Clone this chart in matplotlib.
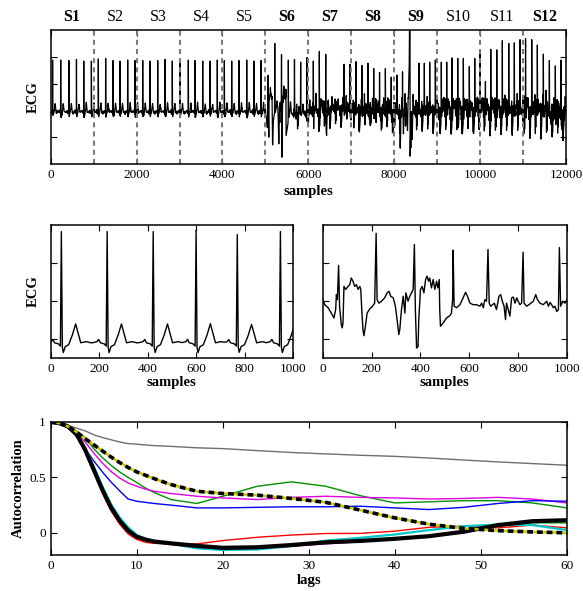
import numpy as np
import matplotlib
matplotlib.use("Agg")
import matplotlib.pyplot as plt

plt.rcParams['font.family'] = ['Liberation Serif', 'DejaVu Serif']

# ---------------- data ----------------
seg_labels = ['S1', 'S2', 'S3', 'S4', 'S5', 'S6', 'S7', 'S8', 'S9', 'S10', 'S11', 'S12']
seg_bold = [True, False, False, False, False, True, True, True, True, False, False, True]
seg_bounds = [1000, 2000, 3000, 4000, 5000, 6000, 7000, 8000, 9000, 10000, 11000]

# one heart beat (offset from R peak in samples, amplitude relative to R height)
tmpl_off = [-60, -42, -35, -28, -12, -4, 0, 4, 8, 16, 30, 44, 59, 71, 80, 95, 104, 120]
tmpl_val = [0.0, 0.01, 0.03, 0.0, -0.01, -0.03, 1.0, -0.04, -0.088, -0.035, -0.017,
            0.06, 0.169, 0.07, 0.0, 0.007, 0.01, 0.0]

# middle-left panel: segment S1 (clean)
left_r_pos = [44, 233, 423, 600, 770, 948]
left_r_amp = [1.41, 1.41, 1.41, 1.43, 1.37, 1.41]
left_base = -0.05

# middle-right panel: segment S6 (noisy)
right_x = [0, 7, 21, 34, 45, 52, 55, 59, 64, 68, 75, 79, 82, 86, 93, 103, 110, 116, 123, 130,
           137, 144, 151, 155, 159, 164, 168, 174, 181, 192, 203, 212, 218, 222, 229, 240, 253,
           263, 271, 278, 288, 297, 304, 311, 315, 322, 329, 336, 340, 349, 356, 363, 370, 375,
           379, 384, 390, 393, 400, 407, 414, 421, 427, 433, 438, 445, 452, 459, 466, 471, 477,
           479, 482, 493, 507, 521, 527, 532, 534, 538, 548, 562, 575, 585, 593, 603, 616, 630,
           644, 651, 658, 664, 671, 677, 682, 688, 696, 703, 712, 722, 729, 736, 743, 749, 753,
           760, 767, 774, 781, 788, 795, 801, 808, 815, 821, 825, 836, 849, 863, 873, 880, 890,
           904, 918, 925, 932, 938, 945, 952, 959, 966, 970, 975, 984, 993, 1000]
right_y = [0.517, 0.45, 0.41, 0.34, 0.276, 0.386, 0.583, 0.517, 0.965, 0.43, 0.19, 0.145, 0.21,
           0.69, 0.65, 0.69, 0.714, 0.80, 0.758, 0.69, 0.714, 0.65, 0.69, 0.65, 0.386, 0.12,
           0.043, 0.166, 0.34, 0.395, 0.43, 0.47, 1.386, 0.517, 0.47, 0.495, 0.54, 0.605, 0.626,
           0.56, 0.54, 0.43, 0.254, 0.057, 0.12, 0.386, 0.56, 0.34, 0.605, 0.495, 0.56, 0.605,
           0.65, 1.24, 0.386, -0.12, -0.10, 0.254, 0.65, 0.69, 0.605, 0.78, 0.824, 0.758, 0.80,
           0.67, 0.78, 0.65, 0.758, 0.67, 0.78, 0.386, 0.166, 0.21, 0.276, 0.307, 0.34, 0.517,
           1.166, 0.43, 0.41, 0.45, 0.54, 0.613, 0.56, 0.47, 0.45, 0.45, 0.43, 0.47, 0.41, 0.517,
           0.495, 1.175, 0.47, 0.43, 0.45, 0.47, 0.386, 0.56, 0.583, 0.495, 0.43, 0.254, 0.47,
           0.386, 0.30, 0.54, 0.55, 0.47, 0.54, 0.495, 0.45, 0.47, 1.14, 0.47, 0.43, 0.46, 0.495,
           0.583, 0.517, 0.47, 0.45, 0.495, 0.43, 0.48, 0.45, 0.41, 0.43, 0.36, 0.386, 1.20,
           0.43, 0.495, 0.47, 0.51]
right_base = 0.5     # baseline of the S6 panel
right_scale = 0.71   # S6 panel units per unit of the full-record panel

# full record (top panel)
top_base = -0.035
top_r_pos = [44, 233, 423, 600, 770, 948, 1109, 1280, 1451, 1614, 1793, 1963, 2143, 2313, 2492,
             2662, 2832, 3011, 3205, 3361, 3540, 3710, 3880, 4044, 4215, 4385, 4565, 4735, 4898,
             6116, 6256, 6405, 6831, 6971, 7107, 7247, 7387, 7522, 7658, 7794, 7930, 8065, 8193,
             8578, 8701, 8826, 8958, 9097, 9222, 9346, 9479, 9610, 9749, 9875, 9999, 10124,
             10248, 10388, 10518, 10667, 10797, 10930, 11058, 11202, 11333, 11473, 11613,
             11752, 11885]
top_r_amp = [0.94, 0.94, 0.93, 0.95, 0.92, 0.92, 0.96, 0.97, 0.93, 0.92, 0.94, 0.93, 0.93, 0.92,
             0.93, 0.95, 0.92, 0.93, 0.94, 0.93, 0.92, 0.92, 0.94, 0.93, 0.92, 0.93, 0.94, 0.92,
             0.93,
             0.92, 1.10, 1.13, 0.86, 0.86, 0.91, 0.84, 0.88, 0.78, 0.71, 0.78, 0.62, 0.66, 0.72,
             0.88, 0.88, 0.90, 0.94, 0.90, 0.90, 0.98, 0.97, 0.97, 0.82, 0.97, 1.08, 0.54,
             1.14, 1.13, 1.30, 1.25, 1.26, 1.32, 1.34, 1.32, 1.22, 1.05, 0.93, 0.83, 0.94]
seg_noise_amp = [0.12, 0.12, 0.12, 0.12, 0.14, 0.0, 1.0, 1.1, 1.2, 1.2, 1.3, 1.5]
seg_noise_phase = [0, 100, 200, 300, 400, 0, 37, 151, 263, 389, 71, 211]
wander_x = [0, 6000, 6450, 6550, 6800, 6950, 11500, 11700, 11900, 12000]
wander_y = [0.0, 0.0, 0.0, 0.06, 0.06, 0.0, 0.0, -0.08, -0.12, -0.05]
artifact_x = [6400, 6425, 6450, 8125, 8140, 8160, 8205, 8215, 8230, 8280, 8310, 8330, 8350,
              8366, 8370, 8385, 8400, 8418, 8440, 8460, 9480, 9493, 9510]
artifact_y = [0.0, -0.42, 0.0, 0.0, -0.40, 0.0, 0.0, -0.33, 0.0, 0.0, -0.35, 0.25, 0.9,
              3.0, -0.72, -0.3, 0.3, -0.45, 0.1, 0.0, 0.0, -0.28, 0.0]

# autocorrelation (bottom panel)
lags = [0, 1, 2, 3, 4, 5, 6, 7, 8, 9, 10, 11, 12, 14, 17, 20, 24, 28, 32, 36, 40, 44, 48, 52, 56, 60]
ac_gray = [1, 0.995, 0.97, 0.945, 0.92, 0.885, 0.86, 0.84, 0.82, 0.805, 0.80, 0.793, 0.787, 0.78,
           0.767, 0.76, 0.742, 0.725, 0.712, 0.70, 0.69, 0.675, 0.657, 0.64, 0.625, 0.61]
ac_dashed = [1, 0.99, 0.96, 0.91, 0.85, 0.795, 0.74, 0.685, 0.635, 0.59, 0.55, 0.52, 0.49, 0.435,
             0.375, 0.355, 0.34, 0.31, 0.275, 0.205, 0.135, 0.078, 0.04, 0.02, 0.008, 0.0]
ac_green = [1, 0.99, 0.96, 0.92, 0.86, 0.76, 0.68, 0.61, 0.55, 0.50, 0.455, 0.405, 0.365, 0.30,
            0.265, 0.33, 0.42, 0.46, 0.42, 0.335, 0.27, 0.28, 0.29, 0.29, 0.27, 0.225]
ac_magenta = [1, 0.99, 0.955, 0.90, 0.82, 0.72, 0.63, 0.555, 0.495, 0.45, 0.42, 0.395, 0.375,
              0.355, 0.33, 0.315, 0.30, 0.32, 0.33, 0.32, 0.315, 0.305, 0.31, 0.32, 0.305, 0.27]
ac_blue = [1, 0.99, 0.95, 0.87, 0.76, 0.65, 0.55, 0.46, 0.38, 0.305, 0.285, 0.275, 0.265, 0.25,
           0.225, 0.225, 0.23, 0.235, 0.235, 0.24, 0.225, 0.21, 0.23, 0.265, 0.29, 0.285]
ac_red = [1, 0.99, 0.955, 0.88, 0.73, 0.55, 0.36, 0.20, 0.08, -0.01, -0.06, -0.085, -0.095,
          -0.10, -0.10, -0.07, -0.04, -0.02, -0.006, -0.005, 0.015, 0.05, 0.06, 0.045, 0.07, 0.045]
ac_cyan = [1, 0.99, 0.96, 0.90, 0.77, 0.60, 0.42, 0.26, 0.14, 0.05, -0.02, -0.055, -0.075, -0.10,
           -0.14, -0.155, -0.15, -0.12, -0.07, -0.045, -0.015, 0.025, 0.06, 0.075, 0.07, 0.025]
ac_magenta2 = [1, 0.99, 0.96, 0.89, 0.75, 0.57, 0.39, 0.23, 0.11, 0.02, -0.04, -0.065, -0.085,
               -0.105, -0.13, -0.145, -0.14, -0.12, -0.10, -0.08, -0.06, -0.035, 0.0, 0.06, 0.10, 0.12]
ac_green2 = [1, 0.99, 0.96, 0.89, 0.75, 0.57, 0.39, 0.23, 0.11, 0.02, -0.035, -0.06, -0.08,
             -0.10, -0.125, -0.14, -0.14, -0.12, -0.095, -0.075, -0.055, -0.03, 0.01, 0.06, 0.09, 0.09]
ac_black = [1, 0.99, 0.96, 0.89, 0.75, 0.57, 0.39, 0.23, 0.11, 0.02, -0.035, -0.06, -0.078,
            -0.095, -0.117, -0.135, -0.13, -0.11, -0.085, -0.073, -0.054, -0.03, 0.01, 0.07, 0.105, 0.114]

# ---------------- signal assembly ----------------
def beats(t, pos, amp, base):
    s = np.full(t.shape, base, dtype=float)
    for p, a in zip(pos, amp):
        s += (a - base) * np.interp(t - p, tmpl_off, tmpl_val, left=0.0, right=0.0)
    return s

rx = np.array(right_x, float)
ry = np.array(right_y, float)
mask = (rx >= 482) & (ry < 0.9)
pat_x = rx[mask] - 482
pat_y = (ry[mask] - ry[mask].mean()) / right_scale
period = 518.0

t_left = np.arange(0, 1001)
left_sig = beats(t_left, left_r_pos, left_r_amp, left_base)

t = np.arange(0, 12001)
extra = np.zeros(t.shape)
for k in range(12):
    if k == 5:
        continue
    sel = (t >= 1000 * k) & (t < 1000 * (k + 1))
    ph = (2 * (t[sel] - 1000 * k) + seg_noise_phase[k]) % period
    extra[sel] = seg_noise_amp[k] * np.interp(ph, pat_x, pat_y, period=period)
extra += np.interp(t, wander_x, wander_y)
# so that each R peak reaches the height
amp_eff = [h - extra[p] for p, h in zip(top_r_pos, top_r_amp)]
top_sig = beats(t, top_r_pos, amp_eff, top_base) + extra
sel6 = (t >= 5000) & (t < 6000)
top_sig[sel6] = (np.interp(t[sel6] - 5000, rx, ry) - right_base) / right_scale
top_sig += np.interp(t, artifact_x, artifact_y, left=0.0, right=0.0)

# ---------------- figure ----------------
W, H = 583, 591
fig = plt.figure(figsize=(W / 100, H / 100), dpi=100)

def style(ax):
    ax.tick_params(direction='in', top=True, right=True, length=4, width=0.8,
                   labelsize=9.5, pad=3.5)
    for sp in ax.spines.values():
        sp.set_linewidth(1.1)

lab_kw = dict(fontsize=10.5, fontweight='bold')

# top panel
ax1 = fig.add_axes([50.7 / W, 1 - 164 / H, 515.3 / W, 134 / H])
ax1.plot(t, top_sig, color='black', lw=0.9)
for b in seg_bounds:
    ax1.axvline(b, color='#7a7a7a', lw=1.5, ls=(0, (2.4, 2.0)))
ax1.set_xlim(0, 12000)
ax1.set_ylim(-1.0, 1.5)
ax1.set_xticks(range(0, 12001, 2000))
ax1.set_yticks([-0.5, 0, 0.5, 1.0])
ax1.set_yticklabels([])
style(ax1)
ax1.set_xlabel('samples', **lab_kw)
ax1.set_ylabel('ECG', **lab_kw)
ax1.xaxis.set_label_coords(0.5, -0.155)
ax1.yaxis.set_label_coords(-0.021, 0.5)
for i, (lab, bold) in enumerate(zip(seg_labels, seg_bold)):
    ax1.text(500 + 1000 * i, 1.07, lab, transform=ax1.get_xaxis_transform(),
             ha='center', va='baseline', fontsize=11.5,
             fontweight='bold' if bold else 'normal')

# middle left
ax2 = fig.add_axes([50.7 / W, 1 - 358 / H, 242.3 / W, 133.3 / H])
ax2.plot(t_left, left_sig, color='black', lw=1.0)
ax2.set_xlim(0, 1000)
ax2.set_ylim(-0.25, 1.5)
ax2.set_xticks(range(0, 1001, 200))
ax2.set_yticks([0, 0.5, 1.0])
ax2.set_yticklabels([])
style(ax2)
ax2.set_xlabel('samples', **lab_kw)
ax2.set_ylabel('ECG', **lab_kw)
ax2.xaxis.set_label_coords(0.5, -0.135)
ax2.yaxis.set_label_coords(-0.044, 0.5)

# middle right
ax3 = fig.add_axes([323 / W, 1 - 358 / H, 243.7 / W, 133.3 / H])
ax3.plot(right_x, right_y, color='black', lw=1.0)
ax3.set_xlim(0, 1000)
ax3.set_ylim(-0.25, 1.5)
ax3.set_xticks(range(0, 1001, 200))
ax3.set_yticks([0, 0.5, 1.0])
ax3.set_yticklabels([])
style(ax3)
ax3.set_xlabel('samples', **lab_kw)
ax3.xaxis.set_label_coords(0.5, -0.135)

# bottom
ax4 = fig.add_axes([50.7 / W, 1 - 555 / H, 516 / W, 133 / H])
ax4.plot(lags, ac_gray, color='#6e6e6e', lw=1.0)
ax4.plot(lags, ac_green, color='#009000', lw=1.0)
ax4.plot(lags, ac_magenta, color='#e000e0', lw=1.0)
ax4.plot(lags, ac_blue, color='#0000ff', lw=1.0)
ax4.plot(lags, ac_red, color='#ff0000', lw=1.0)
ax4.plot(lags, ac_cyan, color='#00c8c8', lw=1.6)
ax4.plot(lags, ac_green2, color='#009000', lw=1.0)
ax4.plot(lags, ac_magenta2, color='#c000c0', lw=1.0)
ax4.plot(lags, ac_black, color='black', lw=3.0)
ax4.plot(lags, ac_dashed, color='#c8c800', lw=1.8)
ax4.plot(lags, ac_dashed, color='black', lw=2.6, ls=(0, (1.6, 1.1)))
ax4.set_xlim(0, 60)
ax4.set_ylim(-0.2, 1.0)
ax4.set_xticks(range(0, 61, 10))
ax4.set_yticks([0, 0.5, 1])
ax4.set_yticklabels(['0', '0.5', '1'])
style(ax4)
ax4.set_xlabel('lags', **lab_kw)
ax4.set_ylabel('Autocorrelation', **lab_kw)
ax4.xaxis.set_label_coords(0.5, -0.14)
ax4.yaxis.set_label_coords(-0.05, 0.5)

fig.savefig('out.png', dpi=100)
